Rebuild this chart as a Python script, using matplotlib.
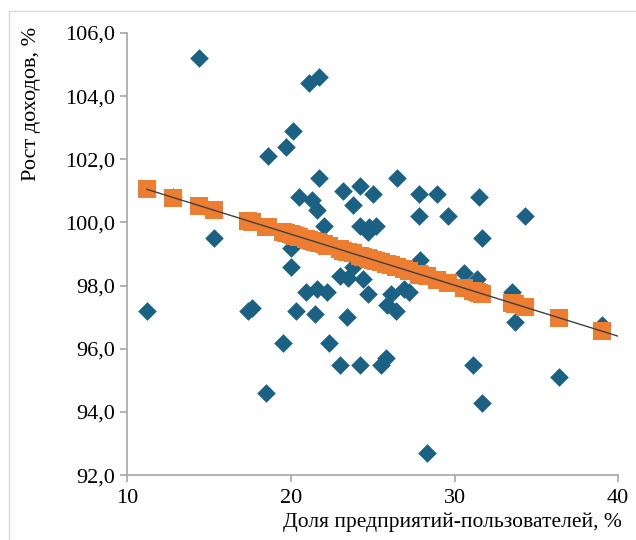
import numpy as np
import matplotlib.pyplot as plt
from matplotlib.lines import Line2D
from matplotlib.ticker import FuncFormatter

plt.rcParams['font.family'] = ['Liberation Serif', 'DejaVu Serif']

# share of user enterprises, % (x) and income growth, % (y)
share = [11.2, 12.8, 14.4, 15.3, 17.4, 17.6, 18.6, 18.5, 19.5, 19.7,
         20.0, 20.0, 20.1, 20.3, 20.5, 20.9, 21.1, 21.7, 21.3, 21.6,
         21.5, 21.6, 21.7, 22.0, 22.2, 22.3, 23.0, 23.0, 23.2, 23.4,
         23.5, 23.8, 23.8, 24.2, 24.2, 24.2, 24.4, 24.7, 24.7, 24.8,
         25.0, 25.2, 25.5, 25.8, 25.9, 26.1, 26.4, 26.5, 26.9, 27.2,
         27.8, 27.8, 27.9, 28.3, 28.9, 29.6, 30.6, 31.1, 31.4, 31.5,
         31.7, 31.7, 33.5, 33.7, 34.3, 36.4, 39.0]
growth = [97.2, 100.8, 105.2, 99.5, 97.2, 97.3, 102.1, 94.6, 96.2, 102.4,
          99.2, 98.6, 102.9, 97.2, 100.8, 97.8, 104.4, 104.6, 100.7, 100.4,
          97.1, 97.9, 101.4, 99.9, 97.8, 96.2, 98.3, 95.5, 101.0, 97.0,
          98.25, 100.55, 98.6, 101.15, 99.9, 95.5, 98.2, 99.7, 97.75, 99.85,
          100.9, 99.9, 95.5, 95.7, 97.4, 97.75, 97.2, 101.4, 97.9, 97.8,
          100.9, 100.2, 98.8, 92.7, 100.9, 100.2, 98.4, 95.5, 98.2, 100.8,
          99.5, 94.3, 97.8, 96.85, 100.2, 95.1, 96.75]
# predicted values (orange squares)
growth_pred = [101.05, 100.79, 100.53, 100.39, 100.05, 100.02, 99.86, 99.87, 99.71, 99.68,
               99.63, 99.63, 99.61, 99.58, 99.55, 99.48, 99.45, 99.36, 99.42, 99.37,
               99.39, 99.37, 99.36, 99.31, 99.27, 99.26, 99.15, 99.15, 99.11, 99.08,
               99.06, 99.02, 99.02, 98.95, 98.95, 98.95, 98.92, 98.87, 98.87, 98.85,
               98.82, 98.79, 98.74, 98.69, 98.68, 98.65, 98.60, 98.58, 98.52, 98.47,
               98.37, 98.37, 98.35, 98.29, 98.19, 98.08, 97.92, 97.84, 97.79, 97.77,
               97.74, 97.74, 97.45, 97.42, 97.32, 96.98, 96.56]
# linear trend line
trend_x = [11.2, 40.0]
trend_y = [101.05, 96.40]

fig = plt.figure(figsize=(6.36, 5.4), dpi=100)
ax = fig.add_axes([0.2, 0.12, 0.772, 0.819])

ax.scatter(share, growth, marker='D', s=90, color='#1b6184', linewidths=0, zorder=2)
ax.scatter(share, growth_pred, marker='s', s=165, color='#ed7d31', linewidths=0, zorder=3)
ax.plot(trend_x, trend_y, color='#404040', linewidth=1, zorder=4)

ax.set_xlim(10, 40)
ax.set_ylim(92, 106)
ax.set_xticks([10, 20, 30, 40])
ax.set_yticks(np.arange(92, 106.1, 2))
ax.yaxis.set_major_formatter(FuncFormatter(lambda v, p: f'{v:.1f}'.replace('.', ',')))

for s in ['top', 'right']:
    ax.spines[s].set_visible(False)
for s in ['left', 'bottom']:
    ax.spines[s].set_color('#a6a6a6')
    ax.spines[s].set_linewidth(1.2)
ax.tick_params(colors='#a6a6a6', labelcolor='black', labelsize=16, length=5, width=1.2)
ax.tick_params(axis='x', pad=5)
ax.tick_params(axis='y', pad=4)

ax.set_xlabel('Доля предприятий-пользователей, %', fontsize=15.5, loc='right')
ax.set_ylabel('Рост доходов, %', fontsize=16, loc='top')
ax.xaxis.set_label_coords(1.008, -0.084)
ax.yaxis.set_label_coords(-0.176, 1.014)

# thin light frame around the picture
fig.add_artist(Line2D([9 / 636, 1], [1 - 11 / 540, 1 - 11 / 540], color='#d9d9d9', linewidth=1))
fig.add_artist(Line2D([9 / 636, 9 / 636], [0, 1 - 11 / 540], color='#d9d9d9', linewidth=1))

fig.savefig('out.png', dpi=100)
